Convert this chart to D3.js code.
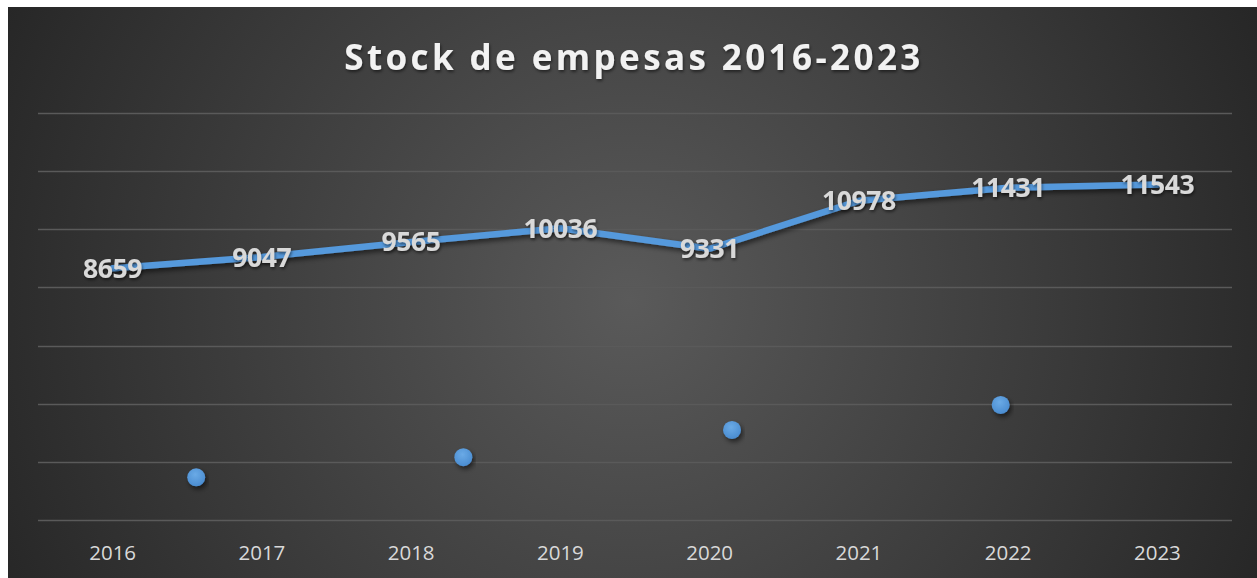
<!DOCTYPE html>
<html>
<head>
<meta charset="utf-8">
<script src="https://cdn.jsdelivr.net/npm/d3@7"></script>
<style>
  body { margin: 0; background: #fff; }
  svg { display: block; }
  .grid line { stroke: #5a5a5a; stroke-width: 1.3; }
  .year-label { font-family: "Open Sans", sans-serif; font-size: 20.5px; fill: #d9d9d9; }
  .value-label { font-family: "Open Sans", sans-serif; font-weight: 700; font-size: 26.5px; fill: #d9d9d9; letter-spacing: -0.4px; }
  .chart-title { font-family: "Open Sans", sans-serif; font-weight: 700; font-size: 35px; fill: #f2f2f2; letter-spacing: 3.4px; }
</style>
</head>
<body>
<svg id="chart" width="1257" height="578"></svg>
<script>
// stock of companies per year
const years = ['2016', '2017', '2018', '2019', '2020', '2021', '2022', '2023'];
const stock = [8659, 9047, 9565, 10036, 9331, 10978, 11431, 11543];

// second series, shown as loose markers (x as fractional category index)
const dotX = [0.56, 2.35, 4.15, 5.95];
const dotValues = [1470, 2160, 3100, 3960];

const yTicks = [0, 2000, 4000, 6000, 8000, 10000, 12000, 14000];
const title = 'Stock de empesas 2016-2023';

const width = 1257;
const height = 578;
const plot = { left: 38, right: 1232, top: 113, bottom: 520 };

const svg = d3.select('#chart');
const defs = svg.append('defs');

// background radial gradient (lighter centre, dark edges)
const bg = defs.append('radialGradient')
  .attr('id', 'bg-grad')
  .attr('gradientUnits', 'userSpaceOnUse')
  .attr('cx', 630).attr('cy', 300).attr('r', 700);
bg.append('stop').attr('offset', '0%').attr('stop-color', '#5a5a5a');
bg.append('stop').attr('offset', '100%').attr('stop-color', '#262626');

const shadow = defs.append('filter')
  .attr('id', 'shadow')
  .attr('x', '-20%').attr('y', '-50%').attr('width', '140%').attr('height', '200%');
shadow.append('feDropShadow')
  .attr('dx', 2).attr('dy', 3).attr('stdDeviation', 2.5)
  .attr('flood-color', '#000').attr('flood-opacity', 0.55);

const textShadow = defs.append('filter').attr('id', 'text-shadow');
textShadow.append('feDropShadow')
  .attr('dx', 1).attr('dy', 2).attr('stdDeviation', 1.5)
  .attr('flood-color', '#000').attr('flood-opacity', 0.5);

const dotGrad = defs.append('radialGradient')
  .attr('id', 'dot-grad')
  .attr('cx', '45%').attr('cy', '35%').attr('r', '65%');
dotGrad.append('stop').attr('offset', '0%').attr('stop-color', '#6aaae6');
dotGrad.append('stop').attr('offset', '100%').attr('stop-color', '#4a8cd0');

svg.append('rect')
  .attr('x', 8).attr('y', 7)
  .attr('width', width - 8).attr('height', height - 7)
  .attr('fill', 'url(#bg-grad)');

const x = d3.scaleBand().domain(years).range([plot.left, plot.right]);
const y = d3.scaleLinear().domain([0, 14000]).range([plot.bottom, plot.top]);
const cx = i => x(years[0]) + x.bandwidth() / 2 + i * x.step();

// gridlines
svg.append('g').attr('class', 'grid')
  .selectAll('line')
  .data(yTicks)
  .join('line')
    .attr('x1', plot.left).attr('x2', plot.right)
    .attr('y1', d => Math.round(y(d)) + 0.5)
    .attr('y2', d => Math.round(y(d)) + 0.5);

// category labels
const xAxis = svg.append('g')
  .attr('transform', `translate(0,${plot.bottom})`)
  .call(d3.axisBottom(x).tickSize(0).tickPadding(0));
xAxis.select('.domain').remove();
xAxis.selectAll('text')
  .attr('class', 'year-label')
  .attr('y', 40)
  .attr('dy', 0)
  .attr('font-family', null)
  .attr('font-size', null)
  .attr('fill', null);

// title
svg.append('text')
  .attr('class', 'chart-title')
  .attr('x', 634).attr('y', 70)
  .attr('text-anchor', 'middle')
  .attr('filter', 'url(#text-shadow)')
  .text(title);

// stock line
const line = d3.line()
  .x((d, i) => cx(i))
  .y(d => y(d));

svg.append('path')
  .datum(stock)
  .attr('d', line)
  .attr('fill', 'none')
  .attr('stroke', '#5599dc')
  .attr('stroke-width', 6.5)
  .attr('stroke-linejoin', 'round')
  .attr('stroke-linecap', 'round')
  .attr('filter', 'url(#shadow)');

// markers of the second series
svg.append('g')
  .selectAll('circle')
  .data(dotValues)
  .join('circle')
    .attr('cx', (d, i) => cx(dotX[i]))
    .attr('cy', d => y(d))
    .attr('r', 9)
    .attr('fill', 'url(#dot-grad)')
    .attr('filter', 'url(#shadow)');

// value labels, centred on the points
svg.append('g')
  .selectAll('text')
  .data(stock)
  .join('text')
    .attr('class', 'value-label')
    .attr('x', (d, i) => cx(i))
    .attr('y', d => y(d))
    .attr('dy', '0.36em')
    .attr('text-anchor', 'middle')
    .attr('filter', 'url(#text-shadow)')
    .text(d => d);
</script>
</body>
</html>
